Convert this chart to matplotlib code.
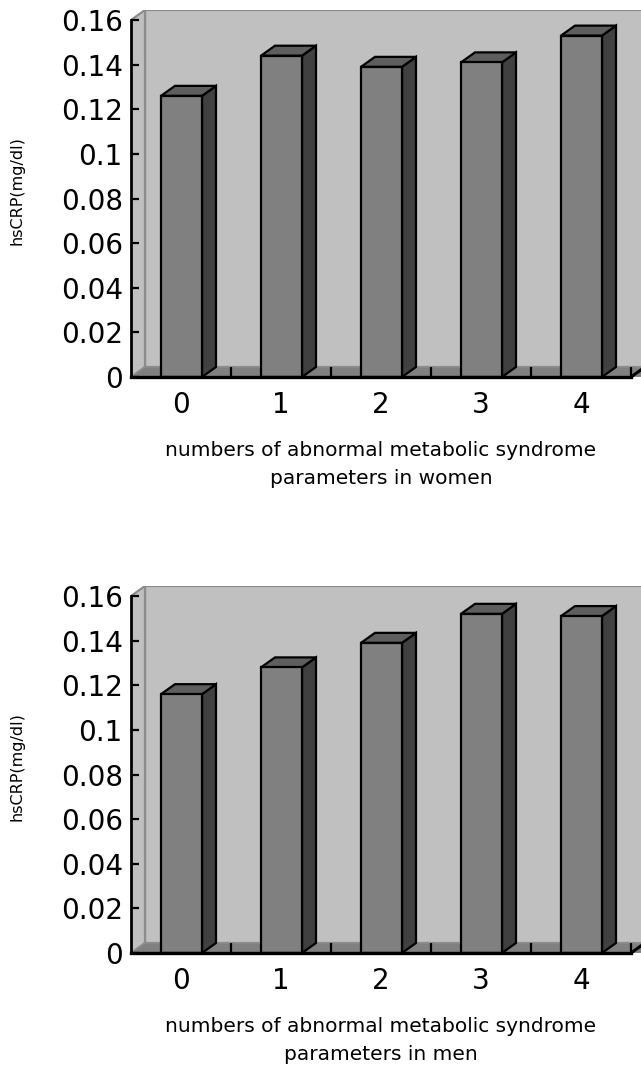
import matplotlib

matplotlib.use("Agg")
import matplotlib.pyplot as plt
from matplotlib.patches import Polygon, Rectangle

# hsCRP by number of abnormal metabolic syndrome parameters
categories = ["0", "1", "2", "3", "4"]
women = [0.126, 0.144, 0.139, 0.141, 0.153]
men = [0.116, 0.128, 0.139, 0.152, 0.151]
ytick_vals = [0, 0.02, 0.04, 0.06, 0.08, 0.1, 0.12, 0.14, 0.16]
ytick_labels = ["0", "0.02", "0.04", "0.06", "0.08", "0.1", "0.12", "0.14", "0.16"]

W, H = 641, 1068
PX_X = 100.0          # pixels per category
PX_Y = 357 / 0.16     # pixels per mg/dl
DX = 14 / PX_X        # depth offset, data units
DY = 10 / PX_Y
YMAX = 0.16

WALL = "#c0c0c0"
EDGE = "#8c8c8c"
FRONT = "#808080"
SIDE = "#404040"
TOP = "#5e5e5e"


def draw_panel(fig, zero_px, values, xlabel_lines):
    left = 131
    top_px = zero_px - YMAX * PX_Y - 10
    ax = fig.add_axes([left / W, (H - zero_px) / H, (W - left) / W, (zero_px - top_px) / H])
    n = len(values)
    ax.set_xlim(0, (W - left) / PX_X)
    ax.set_ylim(0, (zero_px - top_px) / PX_Y)
    ax.set_facecolor("none")

    # walls and floor
    ax.add_patch(Rectangle((DX, DY), 10, YMAX, facecolor=WALL, edgecolor=EDGE, lw=1.6, zorder=0.5))
    ax.add_patch(Polygon([(0, 0), (DX, DY), (DX, YMAX + DY), (0, YMAX)],
                         closed=True, facecolor=WALL, edgecolor=EDGE, lw=1.6, zorder=0.6))
    ax.add_patch(Polygon([(0, 0), (n + 1, 0), (n + 1 + DX, DY), (DX, DY)],
                         closed=True, facecolor=FRONT, edgecolor=EDGE, lw=1.0, zorder=0.7))
    ax.plot([n, n + DX], [0, DY], color="black", lw=2.2, zorder=3, clip_on=False)

    # 3D columns
    bw = 0.41
    for i, v in enumerate(values):
        x0 = i + 0.30
        kw = dict(edgecolor="black", lw=1.6, joinstyle="miter", zorder=2)
        ax.add_patch(Polygon([(x0 + bw, 0), (x0 + bw + DX, DY), (x0 + bw + DX, v + DY), (x0 + bw, v)],
                             closed=True, facecolor=SIDE, **kw))
        ax.add_patch(Polygon([(x0, v), (x0 + bw, v), (x0 + bw + DX, v + DY), (x0 + DX, v + DY)],
                             closed=True, facecolor=TOP, **kw))
        ax.add_patch(Rectangle((x0, 0), bw, v, facecolor=FRONT, **kw))

    for s in ("top", "right"):
        ax.spines[s].set_visible(False)
    ax.spines["left"].set_bounds(0, YMAX)
    ax.spines["bottom"].set_bounds(0, n)
    ax.spines["left"].set_linewidth(2.0)
    ax.spines["bottom"].set_linewidth(2.4)
    for s in ("left", "bottom"):
        ax.spines[s].set_zorder(3)

    ax.set_yticks(ytick_vals)
    ax.set_yticklabels(ytick_labels, fontsize=20)
    ax.tick_params(axis="y", direction="in", length=6, width=1.6, pad=6)

    ax.set_xticks([i + 0.5 for i in range(n)])
    ax.set_xticklabels(categories, fontsize=20)
    ax.set_xticks(list(range(1, n + 1)), minor=True)
    ax.tick_params(axis="x", which="major", length=0, pad=10)
    ax.tick_params(axis="x", which="minor", direction="in", length=7, width=1.6)

    fig.text(17 / W, 1 - (zero_px - 186) / H, "hsCRP(mg/dl)", rotation=90,
             ha="center", va="center", fontsize=11.5)
    fig.text(381 / W, 1 - (zero_px + 73) / H, xlabel_lines[0], ha="center", va="center", fontsize=14.5)
    fig.text(381 / W, 1 - (zero_px + 102) / H, xlabel_lines[1], ha="center", va="center", fontsize=14.5)
    return ax


fig = plt.figure(figsize=(W / 100, H / 100), dpi=100, facecolor="white")
draw_panel(fig, 377, women, ["numbers of abnormal metabolic syndrome", "parameters in women"])
draw_panel(fig, 953, men, ["numbers of abnormal metabolic syndrome", "parameters in men"])
fig.savefig("out.png", dpi=100, facecolor="white")
